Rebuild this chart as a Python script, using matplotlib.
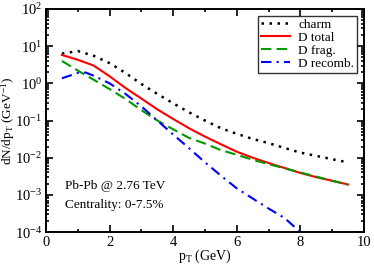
import numpy as np
import matplotlib
matplotlib.use('Agg')
import matplotlib.pyplot as plt
from matplotlib.ticker import MultipleLocator, LogLocator, NullFormatter

plt.rcParams['font.family'] = ['Liberation Serif', 'DejaVu Serif']
plt.rcParams['mathtext.fontset'] = 'custom'
plt.rcParams['mathtext.rm'] = 'Liberation Serif'
plt.rcParams['mathtext.it'] = 'Liberation Serif:italic'

# pT grid (GeV)
pt = [0.5, 1.0, 1.5, 2.0, 2.5, 3.0, 3.5, 4.0, 4.5, 5.0,
      5.5, 6.0, 6.5, 7.0, 7.5, 8.0, 8.5, 9.0, 9.5]

charm = [6.3, 7.4, 5.5, 3.5, 1.9, 0.96, 0.52, 0.29, 0.166, 0.10,
         0.062, 0.044, 0.032, 0.0247, 0.0183, 0.0137, 0.0112, 0.0091, 0.0075]
d_total = [5.8, 4.3, 3.0, 1.55, 0.75, 0.39, 0.20, 0.11, 0.062, 0.037,
           0.023, 0.0145, 0.0100, 0.0072, 0.0053, 0.0039, 0.0030, 0.0024, 0.0019]
d_frag = [4.0, 2.2, 1.25, 0.70, 0.38, 0.19, 0.10, 0.058, 0.034, 0.024,
          0.016, 0.0120, 0.0088, 0.0067, 0.0052, 0.0040, 0.0031, 0.0024, 0.0019]
pt_rec = [0.5, 1.0, 1.25, 1.5, 2.0, 2.5, 3.0, 3.5, 4.0, 4.5,
          5.0, 5.5, 6.0, 6.5, 7.0, 7.5, 8.0]
d_recomb = [1.37, 1.9, 1.95, 1.6, 1.0, 0.52, 0.24, 0.10, 0.042, 0.018,
            0.0075, 0.0033, 0.0015, 0.0008, 0.00043, 0.00024, 0.0001]

y_ticks = [1e-4, 1e-3, 1e-2, 1e-1, 1e0, 1e1, 1e2]

fig = plt.figure(figsize=(3.74, 2.64), dpi=100)
ax = fig.add_axes([0.123, 0.121, 0.850, 0.845])

ax.plot(pt, charm, color='black', ls=(0, (1, 2.2)), lw=1.8, label='charm')
ax.plot(pt, d_total, color='red', ls='-', lw=1.5, label='D total')
ax.plot(pt, d_frag, color='#009900', ls=(0, (5, 2.5)), lw=1.5, label='D frag.')
ax.plot(pt_rec, d_recomb, color='blue', ls=(0, (5, 2.5, 1, 2.5)), lw=1.5,
        label='D recomb.')

ax.set_yscale('log')
ax.set_xlim(0, 10)
ax.set_ylim(1e-4, 1e2)
ax.xaxis.set_major_locator(MultipleLocator(2))
ax.xaxis.set_minor_locator(MultipleLocator(1))
ax.set_yticks(y_ticks)
ax.yaxis.set_minor_locator(LogLocator(base=10, subs=np.arange(2, 10), numticks=20))
ax.yaxis.set_minor_formatter(NullFormatter())
ax.set_ylim(1e-4, 1e2)
ax.tick_params(which='both', direction='in', top=True, right=True, labelsize=10.5,
               width=1.2)
ax.tick_params(which='major', length=5, pad=2.5)
ax.tick_params(which='minor', length=2.5)
for s in ax.spines.values():
    s.set_linewidth(1.4)

ax.set_xlabel(r'p$_\mathrm{T}$ (GeV)', fontsize=10)
ax.set_ylabel(r'dN/dp$_\mathrm{T}$ (GeV$^{-1}$)', fontsize=9.5)
ax.xaxis.set_label_coords(0.5, -0.068)
ax.yaxis.set_label_coords(-0.09, 0.5)

ax.text(0.6, 10**-2.77, 'Pb-Pb @ 2.76 TeV', fontsize=9.5, va='center')
ax.text(0.6, 10**-3.28, 'Centrality: 0-7.5%', fontsize=9.5, va='center')

leg = ax.legend(loc='upper right', fontsize=9.5, frameon=True, fancybox=False,
                edgecolor='black', handlelength=2.2, handletextpad=0.6,
                labelspacing=0.05, borderpad=0.25, borderaxespad=0.5)
leg.get_frame().set_linewidth(1.0)

fig.savefig('out.png', dpi=100)
